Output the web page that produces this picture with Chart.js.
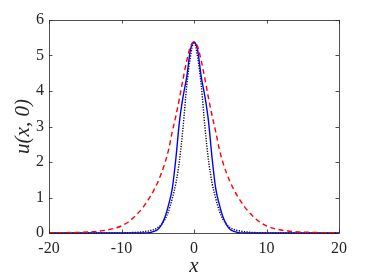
<!DOCTYPE html>
<html>
<head>
<meta charset="utf-8">
<script src="https://cdn.jsdelivr.net/npm/chart.js@4.4.1/dist/chart.umd.min.js"></script>
<style>
  html, body { margin: 0; padding: 0; background: #fff; }
  #wrap { width: 374px; height: 280px; }
</style>
</head>
<body>
<div id="wrap"><canvas id="profileChart"></canvas></div>
<script>
// x positions of the sampled curves
const xVals = [-20, -18, -16, -14, -13, -12, -11, -10, -9, -8, -7, -6.5, -6, -5.5, -5, -4.5, -4, -3.5, -3, -2.5, -2, -1.5, -1, -0.5,
               0, 0.5, 1, 1.5, 2, 2.5, 3, 3.5, 4, 4.5, 5, 5.5, 6, 6.5, 7, 8, 9, 10, 11, 12, 13, 14, 16, 18, 20];

// red dashed curve (widest)
const redVals = [0.005, 0.009, 0.018, 0.037, 0.056, 0.085, 0.13, 0.2, 0.32, 0.5, 0.73, 0.88, 1.04, 1.22, 1.43, 1.68, 1.98, 2.35, 2.85, 3.3, 3.8, 4.35, 4.85, 5.25,
                 5.38, 5.25, 4.85, 4.35, 3.8, 3.3, 2.85, 2.35, 1.98, 1.68, 1.43, 1.22, 1.04, 0.88, 0.73, 0.5, 0.32, 0.2, 0.13, 0.085, 0.056, 0.037, 0.018, 0.009, 0.005];

// blue solid curve
const blueVals = [0, 0, 0, 0, 0, 0, 0, 0, 0, 0, 0.001, 0.004, 0.015, 0.045, 0.1, 0.23, 0.45, 0.8, 1.25, 2.1, 3.15, 3.85, 4.4, 5.15,
                  5.38, 5.15, 4.4, 3.85, 3.15, 2.1, 1.25, 0.8, 0.45, 0.23, 0.1, 0.045, 0.015, 0.004, 0.001, 0, 0, 0, 0, 0, 0, 0, 0, 0, 0];

// black dotted curve (narrowest peak)
const blackVals = [0, 0, 0, 0, 0, 0.001, 0.002, 0.004, 0.009, 0.018, 0.035, 0.05, 0.07, 0.1, 0.15, 0.24, 0.38, 0.62, 0.97, 1.4, 2.05, 3.0, 4.15, 4.95,
                   5.38, 4.95, 4.15, 3.0, 2.05, 1.4, 0.97, 0.62, 0.38, 0.24, 0.15, 0.1, 0.07, 0.05, 0.035, 0.018, 0.009, 0.004, 0.002, 0.001, 0, 0, 0, 0, 0];

const xTicks = [-20, -10, 0, 10, 20];
const yTicks = [0, 1, 2, 3, 4, 5, 6];

function toPoints(ys) {
    return xVals.map((x, i) => ({ x: x, y: ys[i] }));
}

const serif = '"Liberation Serif", "DejaVu Serif", serif';
const axisColor = '#262626';

// box round the axes with short inward ticks, like a MATLAB figure
const boxPlugin = {
    id: 'boxPlugin',
    afterDraw(chart) {
        const c = chart.ctx;
        const a = chart.chartArea;
        const xs = chart.scales.x, ys = chart.scales.y;
        const tl = 3.5;
        c.save();
        c.strokeStyle = axisColor;
        c.lineWidth = 0.8;
        c.strokeRect(Math.round(a.left) + 0.5, Math.round(a.top) + 0.5,
                     Math.round(a.right - a.left), Math.round(a.bottom - a.top));
        c.beginPath();
        xTicks.forEach(v => {
            const px = Math.round(xs.getPixelForValue(v)) + 0.5;
            c.moveTo(px, a.bottom); c.lineTo(px, a.bottom - tl);
            c.moveTo(px, a.top); c.lineTo(px, a.top + tl);
        });
        yTicks.forEach(v => {
            const py = Math.round(ys.getPixelForValue(v)) + 0.5;
            c.moveTo(a.left, py); c.lineTo(a.left + tl, py);
            c.moveTo(a.right, py); c.lineTo(a.right - tl, py);
        });
        c.stroke();
        c.restore();
    }
};

const ctx = document.getElementById('profileChart').getContext('2d');
const profileChart = new Chart(ctx, {
    type: 'line',
    data: {
        datasets: [
            {
                data: toPoints(redVals),
                borderColor: '#ff0000',
                borderWidth: 1.4,
                borderDash: [5, 3.5],
                pointRadius: 0,
                cubicInterpolationMode: 'monotone',
                clip: 3
            },
            {
                data: toPoints(blueVals),
                borderColor: '#0000ff',
                borderWidth: 1.4,
                pointRadius: 0,
                cubicInterpolationMode: 'monotone',
                clip: 3
            },
            {
                data: toPoints(blackVals),
                borderColor: '#000000',
                borderWidth: 1.4,
                borderDash: [1.2, 1.4],
                pointRadius: 0,
                cubicInterpolationMode: 'monotone',
                clip: 3
            }
        ]
    },
    options: {
        responsive: true,
        maintainAspectRatio: false,
        animation: false,
        events: [],
        layout: { padding: { top: 20, right: 35, left: 0, bottom: 0 } },
        plugins: {
            legend: { display: false },
            tooltip: { enabled: false }
        },
        scales: {
            x: {
                type: 'linear',
                min: -20,
                max: 20,
                afterBuildTicks: s => { s.ticks = xTicks.map(v => ({ value: v })); },
                afterFit: s => { s.height = 47; },
                grid: { display: false, drawTicks: false },
                border: { display: false },
                ticks: {
                    color: axisColor,
                    padding: 6,
                    maxRotation: 0,
                    font: { family: serif, size: 16 }
                },
                title: {
                    display: true,
                    text: 'x',
                    color: axisColor,
                    padding: { top: 0, bottom: 1 },
                    font: { family: serif, size: 21, style: 'italic' }
                }
            },
            y: {
                type: 'linear',
                min: 0,
                max: 6,
                afterBuildTicks: s => { s.ticks = yTicks.map(v => ({ value: v })); },
                afterFit: s => { s.width = 49; },
                grid: { display: false, drawTicks: false },
                border: { display: false },
                ticks: {
                    color: axisColor,
                    padding: 5,
                    font: { family: serif, size: 16 }
                },
                title: {
                    display: true,
                    text: 'u(x, 0)',
                    color: axisColor,
                    padding: { top: 11, bottom: 0 },
                    font: { family: serif, size: 21, style: 'italic' }
                }
            }
        }
    },
    plugins: [boxPlugin]
});
</script>
</body>
</html>
